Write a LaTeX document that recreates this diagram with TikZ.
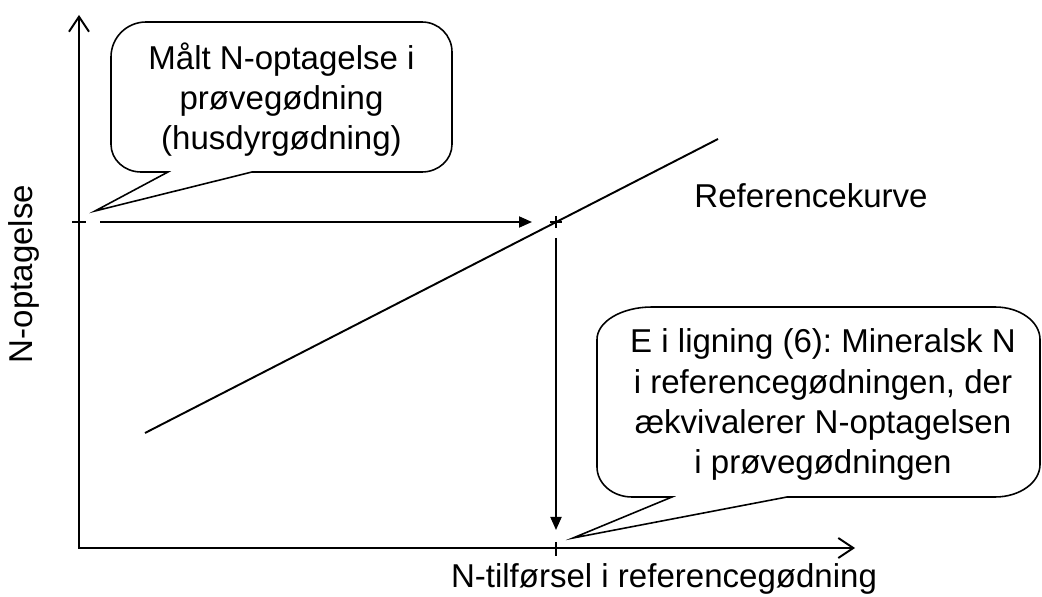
\documentclass[tikz,border=0pt]{standalone}
\usepackage{fontspec}
\setmainfont{Liberation Sans}
\usetikzlibrary{arrows.meta}
\frenchspacing

\begin{document}
\begin{tikzpicture}[
    txt/.style={font=\fontsize{18.8}{22.8}\selectfont, align=center, inner sep=0pt},
    axis/.style={{Straight Barb[length=0.3cm, width=0.4cm]}-{Straight Barb[length=0.3cm, width=0.4cm]}, line width=1.1pt},
    arrow/.style={-{Triangle[length=0.26cm, width=0.22cm]}, line width=1.1pt},
    tick/.style={line width=1pt},
    callout/.style={draw, line width=0.9pt}
]
\useasboundingbox (0,0) rectangle (20.84,11.92);

% Coordinates
\coordinate (origo) at (1.58,0.96);
\coordinate (ytop) at (1.58,11.62);
\coordinate (xend) at (17.10,0.96);
\coordinate (ytick) at (1.58,7.48);
\coordinate (xtick) at (11.12,0.96);
\coordinate (p) at (11.12,7.48);
\coordinate (kurveA) at (2.90,3.26);
\coordinate (kurveB) at (14.36,9.14);

% Axes
\draw[axis] (ytop) -- (origo) -- (xend);
\draw[tick] ([xshift=-0.14cm]ytick) -- ([xshift=0.14cm]ytick);
\draw[tick] ([yshift=0.12cm]xtick) -- ([yshift=-0.16cm]xtick);

% Reference curve
\draw[line width=1.1pt] (kurveA) -- (kurveB);
\draw[tick] ([xshift=-0.12cm]p) -- ([xshift=0.12cm]p);
\draw[tick] ([yshift=0.12cm]p) -- ([yshift=-0.12cm]p);

% Arrows
\draw[arrow, shorten <=0.42cm, shorten >=0.48cm] (ytick) -- (p);
\draw[arrow, shorten <=0.32cm, shorten >=0.36cm] (p) -- (xtick);

% Callouts
\draw[callout] (1.90,7.70) -- (5.04,8.48) -- (8.44,8.48)
    arc[start angle=-90, end angle=0, x radius=0.6, y radius=0.55] -- (9.04,10.88)
    arc[start angle=0, end angle=90, x radius=0.6, y radius=0.6] -- (2.92,11.48)
    arc[start angle=90, end angle=180, x radius=0.7, y radius=0.7] -- (2.22,9.03)
    arc[start angle=180, end angle=270, x radius=0.6, y radius=0.55] -- (3.36,8.48) -- cycle;
\draw[callout] (11.46,1.16) -- (15.74,1.98) -- (19.90,1.98)
    arc[start angle=-90, end angle=0, x radius=0.9, y radius=0.65] -- (20.80,5.13)
    arc[start angle=0, end angle=90, x radius=0.9, y radius=0.65] -- (13.04,5.78)
    arc[start angle=90, end angle=180, x radius=1.1, y radius=0.65] -- (11.94,2.58)
    arc[start angle=180, end angle=270, x radius=0.7, y radius=0.6] -- (13.44,1.98) -- cycle;

% Labels
\node[txt] (maalt) at (5.63,9.93) {Målt N-optagelse i\\prøvegødning\\(husdyrgødning)};
\node[txt] (ekviv) at (16.46,3.83) {E i ligning (6): Mineralsk N\\i referencegødningen, der\\ækvivalerer N-optagelsen\\i prøvegødningen};
\node[txt, anchor=base] (kurve) at (16.22,7.76) {Referencekurve};
\node[txt, anchor=base] (xlabel) at (13.28,0.18) {N-tilførsel i referencegødning};
\node[txt, rotate=90] (ylabel) at (0.48,6.44) {N-optagelse};
\end{tikzpicture}
\end{document}
